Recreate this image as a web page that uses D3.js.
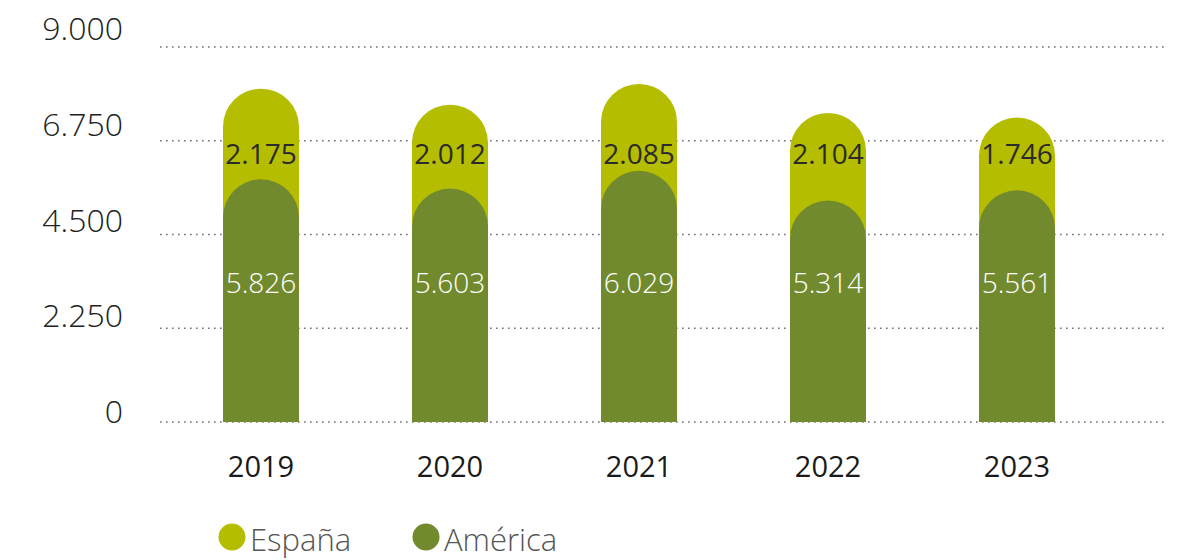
<!DOCTYPE html>
<html>
<head>
<meta charset="utf-8">
<script src="https://cdn.jsdelivr.net/npm/d3@7"></script>
<style>
  html, body { margin: 0; padding: 0; background: #fff; }
  svg { display: block; font-family: "Open Sans", "Noto Sans", sans-serif; }
</style>
</head>
<body>
<div id="chart"></div>
<script>
// data
const years = ['2019', '2020', '2021', '2022', '2023'];
const espana = [2175, 2012, 2085, 2104, 1746];
const america = [5826, 5603, 6029, 5314, 5561];
const yTicks = [0, 2250, 4500, 6750, 9000];
const seriesNames = ['España', 'América'];
const seriesColors = ['#b5bd00', '#728a2e'];

const width = 1198, height = 560;

const svg = d3.select('#chart')
    .append('svg')
    .attr('width', width)
    .attr('height', height);

// scales
const x = d3.scalePoint()
    .domain(years)
    .range([166.5, 1111.5])
    .padding(0.5);
const barW = 76;

const y = d3.scaleLinear().domain([0, 9000]).range([422, 47]);
// tick labels sit slightly above their gridlines, more so at the top
const yLab = d3.scaleLinear().domain([0, 9000]).range([423, 40]);

const fmt = v => d3.format(',')(v).replace(/,/g, '.');

// gridlines
svg.append('g')
    .selectAll('line')
    .data(yTicks)
    .join('line')
    .attr('x1', 160)
    .attr('x2', 1167)
    .attr('y1', d => y(d))
    .attr('y2', d => y(d))
    .attr('stroke', '#6f6f6f')
    .attr('stroke-width', 1.6)
    .attr('stroke-dasharray', '1.6 4.4');

// y tick labels
svg.append('g')
    .selectAll('text')
    .data(yTicks)
    .join('text')
    .attr('x', 123)
    .attr('y', d => yLab(d))
    .attr('text-anchor', 'end')
    .attr('font-size', 32)
    .attr('font-weight', 300)
    .attr('fill', '#222')
    .text(fmt);

// rounded-top bar path
function barPath(cx, top, bottom) {
    const r = barW / 2;
    const x0 = cx - r, x1 = cx + r;
    const ty = Math.min(top + r, bottom);
    return `M${x0},${bottom}V${ty}A${r},${r} 0 0 1 ${x1},${ty}V${bottom}Z`;
}

const rows = years.map((yr, i) => ({ year: yr, es: espana[i], am: america[i] }));

const bars = svg.append('g');
// España sits on top of América, drawn behind as the full stack
bars.selectAll('path.es')
    .data(rows)
    .join('path')
    .attr('class', 'es')
    .attr('d', d => barPath(x(d.year), y(d.am + d.es), y(0)))
    .attr('fill', seriesColors[0]);
bars.selectAll('path.am')
    .data(rows)
    .join('path')
    .attr('class', 'am')
    .attr('d', d => barPath(x(d.year), y(d.am), y(0)))
    .attr('fill', seriesColors[1]);

// value labels (fixed rows)
svg.append('g')
    .selectAll('text')
    .data(rows)
    .join('text')
    .attr('x', d => x(d.year))
    .attr('y', y(6200))
    .attr('text-anchor', 'middle')
    .attr('font-size', 28)
    .attr('fill', '#2b2b2b')
    .text(d => fmt(d.es));

svg.append('g')
    .selectAll('text')
    .data(rows)
    .join('text')
    .attr('x', d => x(d.year))
    .attr('y', y(3100))
    .attr('text-anchor', 'middle')
    .attr('font-size', 28)
    .attr('font-weight', 300)
    .attr('fill', '#ffffff')
    .text(d => fmt(d.am));

// x axis labels
svg.append('g')
    .selectAll('text')
    .data(years)
    .join('text')
    .attr('x', d => x(d))
    .attr('y', 477)
    .attr('text-anchor', 'middle')
    .attr('font-size', 29)
    .attr('fill', '#1a1a1a')
    .text(d => d);

// legend
const legendX = [232, 426];
const legend = svg.append('g')
    .selectAll('g')
    .data(seriesNames)
    .join('g')
    .attr('transform', (d, i) => `translate(${legendX[i]},537)`);
legend.append('circle')
    .attr('r', 13.5)
    .attr('fill', (d, i) => seriesColors[i]);
legend.append('text')
    .attr('x', 18)
    .attr('y', 14)
    .attr('font-size', 31)
    .attr('font-weight', 300)
    .attr('fill', '#555')
    .text(d => d);
</script>
</body>
</html>
